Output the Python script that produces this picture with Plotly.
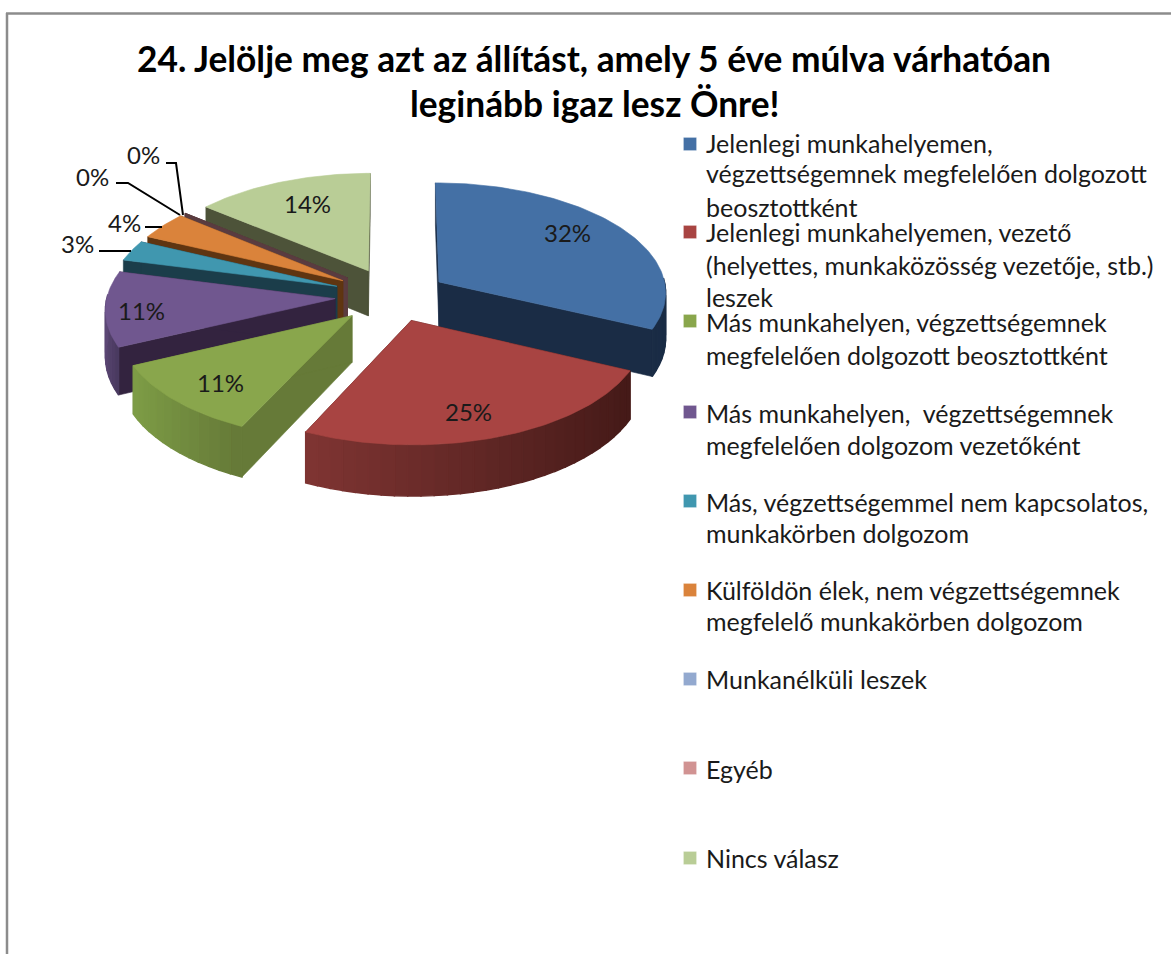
import math
import plotly.graph_objects as go

# ---- data ----
categories = [
    "Jelenlegi munkahelyemen, végzettségemnek megfelelően dolgozott beosztottként",
    "Jelenlegi munkahelyemen, vezető (helyettes, munkaközösség vezetője, stb.) leszek",
    "Más munkahelyen, végzettségemnek megfelelően dolgozott beosztottként",
    "Más munkahelyen, végzettségemnek megfelelően dolgozom vezetőként",
    "Más, végzettségemmel nem kapcsolatos, munkakörben dolgozom",
    "Külföldön élek, nem végzettségemnek megfelelő munkakörben dolgozom",
    "Munkanélküli leszek",
    "Egyéb",
    "Nincs válasz",
]
values = [32, 25, 11, 11, 3, 4, 0, 0, 14]
explode = [55, 53, 57, 58, 60, 60, 60, 60, 59]

legend_lines = [
    ["Jelenlegi munkahelyemen,", "végzettségemnek megfelelően dolgozott", "beosztottként"],
    ["Jelenlegi munkahelyemen, vezető", "(helyettes, munkaközösség vezetője, stb.)", "leszek"],
    ["Más munkahelyen, végzettségemnek", "megfelelően dolgozott beosztottként"],
    ["Más munkahelyen,  végzettségemnek", "megfelelően dolgozom vezetőként"],
    ["Más, végzettségemmel nem kapcsolatos,", "munkakörben dolgozom"],
    ["Külföldön élek, nem végzettségemnek", "megfelelő munkakörben dolgozom"],
    ["Munkanélküli leszek"],
    ["Egyéb"],
    ["Nincs válasz"],
]
title_lines = ["24. Jelölje meg azt az állítást, amely 5 éve múlva várhatóan", "leginább igaz lesz Önre!"]

# ---- styles and layout ----
top_colors = ["#4470A5", "#A84442", "#89A64C", "#70578F", "#4097AF", "#DA833B", "#93A9CF", "#D19392", "#B9CD96"]
wall_left = ["#1A2C45", "#7E3432", "#7D9C46", "#5C4775", "#1B3D4A", "#6A3A17", "#5A3C40", "#5A3C40", "#4D5339"]
wall_right = ["#1A2C45", "#451A18", "#667A38", "#4A3A60", "#1B3D4A", "#6A3A17", "#5A3C40", "#5A3C40", "#4D5339"]
radial_wall = ["#1A2C45", "#451A18", "#667A38", "#33233F", "#1B3D4A", "#5F3511", "#5A3C40", "#5A3C40", "#4D5339"]
draw_order = [8, 7, 6, 5, 4, 3, 2, 0, 1]
legend_y = [[143, 173, 207], [232, 265, 297], [322, 355], [413, 445], [502, 533], [590, 621], [679], [769], [858]]
legend_mark_y = [144, 232, 321, 412, 501, 590, 679, 768, 858]
label_xy = [(567, 232), (468, 411), (220, 382), (141, 310), (77, 243), (124, 222), (92, 176), (143, 154), (307, 203)]
leaders = {
    4: [(99, 251), (131, 251)],
    5: [(145, 227), (162, 227)],
    6: [(116, 183), (128, 183), (180, 215)],
    7: [(166, 163), (176, 163), (183, 215)],
}
CX, CY, RADIUS, TILT, PERSP, DEPTH = 393, 296, 228, 0.481, 0.000368, 46
FONT = "Lato"


def project(X, Y, z=0.0):
    s = 1 / (1 - PERSP * Y)
    return CX + X * s, CY + TILT * Y * s + z * s


def rim(ox, oy, ang):
    return ox + RADIUS * math.sin(ang), oy - RADIUS * math.cos(ang)


def mix(c1, c2, t):
    a = [int(c1[i:i + 2], 16) for i in (1, 3, 5)]
    b = [int(c2[i:i + 2], 16) for i in (1, 3, 5)]
    return "#%02x%02x%02x" % tuple(round(u + (v - u) * t) for u, v in zip(a, b))


fig = go.Figure()


def poly(pts, color, name, lw=0.6):
    xs = [p[0] for p in pts] + [pts[0][0]]
    ys = [p[1] for p in pts] + [pts[0][1]]
    fig.add_trace(go.Scatter(x=xs, y=ys, mode="lines", fill="toself", fillcolor=color,
                             line=dict(color=color, width=lw), name=name,
                             hoverinfo="skip", showlegend=False))


total = sum(values)
starts, acc = [], 0
for v in values:
    starts.append(acc)
    acc += v

for i in draw_order:
    a0 = 2 * math.pi * starts[i] / total
    a1 = 2 * math.pi * (starts[i] + values[i]) / total
    mid = (a0 + a1) / 2
    ox = explode[i] * math.sin(mid)
    oy = -explode[i] * math.cos(mid)
    name = categories[i]
    # the two cut faces
    for a in (a0, a1):
        X, Y = rim(ox, oy, a)
        poly([project(ox, oy), project(X, Y), project(X, Y, DEPTH), project(ox, oy, DEPTH)], radial_wall[i], name)
    if values[i] == 0:
        continue
    # outer rim, in shaded bands from left to right
    n = max(6, int(values[i] * 1.2))
    arc = [a0 + (a1 - a0) * k / n for k in range(n + 1)]
    front = [k for k in range(n) if math.cos((arc[k] + arc[k + 1]) / 2) < 0.05]
    if front:
        sines = [math.sin((arc[k] + arc[k + 1]) / 2) for k in front]
        lo, hi = min(sines), max(sines)
        for k, sn in zip(front, sines):
            p0, p1 = rim(ox, oy, arc[k]), rim(ox, oy, arc[k + 1])
            t = (sn - lo) / (hi - lo) if hi > lo else 0
            poly([project(*p0), project(*p1), project(*p1, DEPTH), project(*p0, DEPTH)],
                 mix(wall_left[i], wall_right[i], t), name, lw=1.4)
    # top surface
    m = max(8, values[i] * 3)
    pts = [project(ox, oy)] + [project(*rim(ox, oy, a0 + (a1 - a0) * k / m)) for k in range(m + 1)]
    poly(pts, top_colors[i], name)

# leader lines
for pts in leaders.values():
    fig.add_trace(go.Scatter(x=[p[0] for p in pts], y=[p[1] for p in pts], mode="lines",
                             line=dict(color="#000000", width=2), hoverinfo="skip", showlegend=False))

# legend swatches
fig.add_trace(go.Scatter(x=[690] * len(categories), y=legend_mark_y, mode="markers", text=categories,
                         marker=dict(symbol="square", size=13, color=top_colors,
                                     line=dict(color="rgba(255,255,255,0.4)", width=0.5)),
                         hoverinfo="text", showlegend=False))

annotations = []
for i, (x, y) in enumerate(label_xy):
    annotations.append(dict(x=x, y=y, text=f"{values[i]}%", showarrow=False,
                            font=dict(family=FONT, size=24, color="#1a1a1a"), xanchor="center", yanchor="middle"))
for lines, ys in zip(legend_lines, legend_y):
    for line, y in zip(lines, ys):
        annotations.append(dict(x=704, y=y, text=line, showarrow=False,
                                font=dict(family=FONT, size=25, color="#1a1a1a"), xanchor="left", yanchor="middle"))
for line, y in zip(title_lines, (58, 103)):
    annotations.append(dict(x=594, y=y, text=f"<b>{line}</b>", showarrow=False,
                            font=dict(family=FONT, size=35.3, color="#000000"), xanchor="center", yanchor="middle"))

# chart frame
shapes = [dict(type="line", x0=7, x1=7, y0=13, y1=954, line=dict(color="#8c8c8c", width=2.5)),
          dict(type="line", x0=6, x1=1171, y0=13.5, y1=13.5, line=dict(color="#8c8c8c", width=2.5))]

fig.update_layout(
    width=1171, height=954, margin=dict(l=0, r=0, t=0, b=0),
    paper_bgcolor="white", plot_bgcolor="white", showlegend=False,
    xaxis=dict(range=[0, 1171], visible=False, fixedrange=True),
    yaxis=dict(range=[954, 0], visible=False, fixedrange=True),
    annotations=annotations, shapes=shapes,
)
fig.write_html("out.html", config={"displayModeBar": False},
               post_script="document.body.style.margin='0';document.body.style.overflow='hidden';")
